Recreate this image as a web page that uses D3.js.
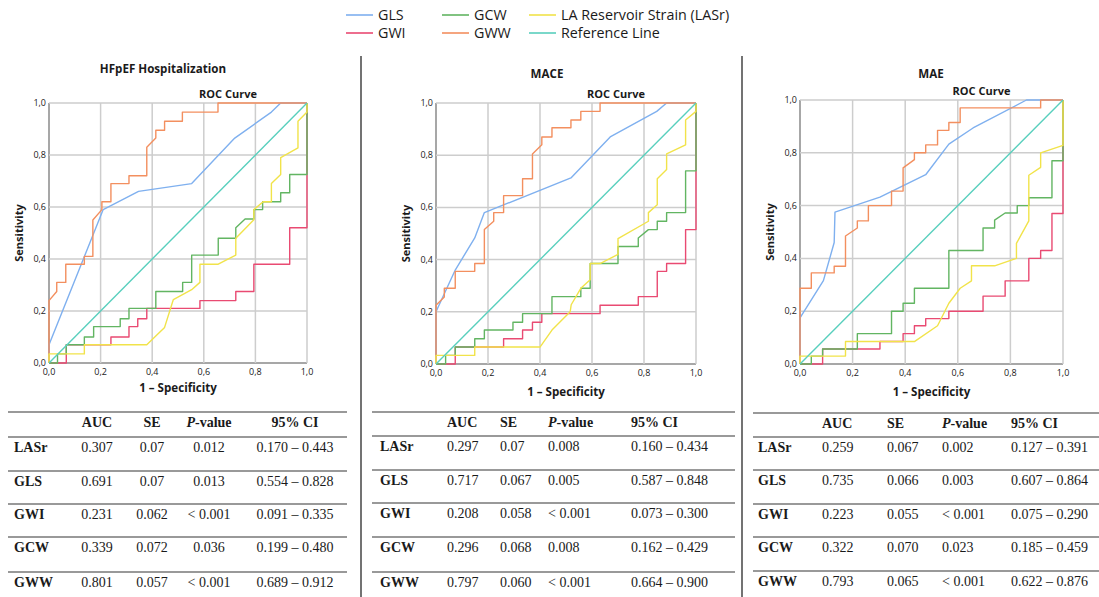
<!DOCTYPE html>
<html>
<head>
<meta charset="utf-8">
<title>ROC curves</title>
<script src="https://d3js.org/d3.v7.min.js"></script>
<style>
  body { margin: 0; background: #fff; overflow: hidden; }
  svg { display: block; }
  .sans { font-family: "Open Sans", "DejaVu Sans", sans-serif; fill: #1a1a1a; }
  .serif { font-family: "Liberation Serif", "Times New Roman", serif; fill: #1a1a1a; }
</style>
</head>
<body>
<svg id="chart" width="1099" height="597"></svg>
<script>
// ---- data ----
const seriesNames = ["GLS", "GWI", "GCW", "GWW", "LA Reservoir Strain (LASr)", "Reference Line"];
const seriesColors = ["#7fb0ef", "#e94a72", "#62b562", "#f38f5f", "#f1e34a", "#58cfbd"];
const ticks = [0, 0.2, 0.4, 0.6, 0.8, 1.0];
const refLine = [[0, 0], [1, 1]];

// HFpEF Hospitalization
const hfGLS = [[0,0],[0,0.07],[0.21,0.59],[0.347,0.66],[0.553,0.69],[0.72,0.865],[0.862,0.965],[0.898,1],[1,1]];
const hfGWI = [[0,0],[0.067,0],[0.067,0.07],[0.24,0.07],[0.24,0.10],[0.31,0.10],[0.31,0.14],[0.344,0.14],[0.344,0.17],[0.379,0.17],[0.379,0.21],[0.585,0.21],[0.585,0.24],[0.724,0.24],[0.724,0.275],[0.794,0.275],[0.794,0.38],[0.933,0.38],[0.933,0.52],[1,0.52],[1,1]];
const hfGCW = [[0,0],[0.033,0],[0.033,0.035],[0.067,0.035],[0.067,0.07],[0.137,0.07],[0.137,0.10],[0.173,0.10],[0.173,0.14],[0.276,0.14],[0.276,0.17],[0.31,0.17],[0.31,0.21],[0.414,0.21],[0.414,0.275],[0.518,0.275],[0.518,0.31],[0.553,0.31],[0.553,0.415],[0.656,0.415],[0.656,0.48],[0.724,0.48],[0.724,0.52],[0.76,0.554],[0.794,0.554],[0.794,0.59],[0.828,0.59],[0.828,0.62],[0.898,0.62],[0.898,0.655],[0.933,0.655],[0.933,0.725],[1,0.725],[1,1]];
const hfGWW = [[0,0],[0,0.24],[0.03,0.275],[0.03,0.31],[0.065,0.31],[0.065,0.38],[0.137,0.38],[0.137,0.41],[0.17,0.41],[0.17,0.55],[0.205,0.59],[0.205,0.62],[0.24,0.62],[0.24,0.69],[0.31,0.69],[0.31,0.72],[0.379,0.72],[0.379,0.83],[0.414,0.865],[0.414,0.895],[0.448,0.895],[0.448,0.93],[0.517,0.93],[0.517,0.965],[0.655,0.965],[0.655,1],[1,1]];
const hfLASr = [[0,0],[0,0.035],[0.137,0.035],[0.137,0.07],[0.379,0.07],[0.448,0.137],[0.482,0.244],[0.553,0.282],[0.585,0.31],[0.585,0.38],[0.656,0.38],[0.724,0.415],[0.724,0.48],[0.794,0.551],[0.794,0.59],[0.83,0.62],[0.862,0.62],[0.862,0.69],[0.898,0.725],[0.898,0.79],[0.965,0.827],[0.965,0.93],[1,0.965],[1,1]];

// MACE
const maGLS = [[0,0],[0,0.2],[0.074,0.36],[0.149,0.483],[0.186,0.58],[0.519,0.713],[0.67,0.87],[0.849,0.968],[0.887,1],[1,1]];
const maGWI = [[0,0],[0.074,0],[0.074,0.065],[0.26,0.065],[0.26,0.097],[0.333,0.097],[0.333,0.13],[0.371,0.13],[0.371,0.16],[0.407,0.16],[0.407,0.193],[0.631,0.193],[0.631,0.225],[0.778,0.225],[0.778,0.258],[0.851,0.258],[0.851,0.355],[0.887,0.355],[0.887,0.385],[0.96,0.385],[0.96,0.515],[1,0.515],[1,1]];
const maGCW = [[0,0],[0.037,0],[0.037,0.033],[0.074,0.033],[0.074,0.065],[0.149,0.065],[0.149,0.097],[0.186,0.097],[0.186,0.13],[0.296,0.13],[0.296,0.16],[0.333,0.16],[0.333,0.193],[0.446,0.193],[0.446,0.258],[0.557,0.258],[0.557,0.29],[0.593,0.29],[0.593,0.385],[0.70,0.385],[0.70,0.45],[0.778,0.45],[0.778,0.483],[0.817,0.515],[0.851,0.515],[0.851,0.547],[0.887,0.547],[0.887,0.58],[0.96,0.58],[0.96,0.74],[1,0.74],[1,1]];
const maGWW = [[0,0],[0,0.225],[0.032,0.257],[0.032,0.29],[0.074,0.29],[0.074,0.355],[0.149,0.355],[0.149,0.385],[0.186,0.385],[0.186,0.515],[0.222,0.547],[0.222,0.58],[0.26,0.58],[0.26,0.645],[0.333,0.645],[0.333,0.71],[0.371,0.71],[0.371,0.805],[0.407,0.84],[0.407,0.87],[0.446,0.87],[0.446,0.905],[0.519,0.905],[0.519,0.935],[0.557,0.935],[0.557,0.968],[0.631,0.968],[0.631,1],[1,1]];
const maLASr = [[0,0],[0,0.033],[0.149,0.033],[0.149,0.065],[0.40,0.065],[0.446,0.13],[0.516,0.2],[0.52,0.227],[0.557,0.29],[0.593,0.323],[0.593,0.385],[0.631,0.385],[0.70,0.42],[0.70,0.48],[0.817,0.547],[0.817,0.58],[0.851,0.61],[0.851,0.71],[0.887,0.745],[0.887,0.805],[0.96,0.84],[0.96,0.935],[1,0.968],[1,1]];

// MAE
const meGLS = [[0,0],[0,0.175],[0.089,0.316],[0.13,0.46],[0.133,0.575],[0.304,0.632],[0.478,0.717],[0.566,0.833],[0.658,0.894],[0.861,1],[1,1]];
const meGWI = [[0,0],[0.086,0],[0.086,0.057],[0.304,0.057],[0.304,0.085],[0.392,0.085],[0.392,0.115],[0.435,0.115],[0.435,0.145],[0.478,0.145],[0.478,0.172],[0.566,0.172],[0.566,0.20],[0.696,0.20],[0.696,0.257],[0.78,0.257],[0.78,0.315],[0.87,0.315],[0.87,0.40],[0.915,0.40],[0.915,0.43],[0.958,0.43],[0.958,0.57],[1,0.57],[1,1]];
const meGCW = [[0,0],[0.043,0],[0.043,0.03],[0.086,0.03],[0.086,0.057],[0.218,0.057],[0.218,0.115],[0.348,0.115],[0.348,0.20],[0.392,0.20],[0.392,0.23],[0.435,0.23],[0.435,0.287],[0.566,0.287],[0.566,0.43],[0.696,0.43],[0.696,0.515],[0.74,0.515],[0.74,0.545],[0.78,0.572],[0.826,0.572],[0.826,0.60],[0.87,0.60],[0.87,0.63],[0.958,0.63],[0.958,0.77],[1,0.77],[1,1]];
const meGWW = [[0,0],[0,0.287],[0.043,0.287],[0.043,0.345],[0.13,0.345],[0.13,0.37],[0.173,0.37],[0.173,0.485],[0.218,0.515],[0.218,0.542],[0.26,0.542],[0.26,0.6],[0.348,0.6],[0.348,0.655],[0.392,0.655],[0.392,0.743],[0.435,0.774],[0.435,0.8],[0.478,0.8],[0.478,0.83],[0.523,0.83],[0.523,0.885],[0.566,0.885],[0.566,0.915],[0.609,0.915],[0.609,0.97],[0.915,0.97],[0.915,1],[1,1]];
const meLASr = [[0,0],[0,0.03],[0.173,0.03],[0.173,0.085],[0.435,0.085],[0.523,0.145],[0.566,0.23],[0.609,0.287],[0.652,0.315],[0.652,0.372],[0.74,0.372],[0.823,0.40],[0.823,0.457],[0.87,0.542],[0.87,0.715],[0.915,0.745],[0.915,0.80],[1,0.828],[1,1]];

// tables
const tableHeader = ["", "AUC", "SE", "P-value", "95% CI"];
const rowLabels = ["LASr", "GLS", "GWI", "GCW", "GWW"];
const hfAUC = ["0.307", "0.691", "0.231", "0.339", "0.801"];
const hfSE  = ["0.07", "0.07", "0.062", "0.072", "0.057"];
const hfP   = ["0.012", "0.013", "< 0.001", "0.036", "< 0.001"];
const hfCI  = ["0.170 – 0.443", "0.554 – 0.828", "0.091 – 0.335", "0.199 – 0.480", "0.689 – 0.912"];
const maAUC = ["0.297", "0.717", "0.208", "0.296", "0.797"];
const maSE  = ["0.07", "0.067", "0.058", "0.068", "0.060"];
const maP   = ["0.008", "0.005", "< 0.001", "0.008", "< 0.001"];
const maCI  = ["0.160 – 0.434", "0.587 – 0.848", "0.073 – 0.300", "0.162 – 0.429", "0.664 – 0.900"];
const meAUC = ["0.259", "0.735", "0.223", "0.322", "0.793"];
const meSE  = ["0.067", "0.066", "0.055", "0.070", "0.065"];
const meP   = ["0.002", "0.003", "< 0.001", "0.023", "< 0.001"];
const meCI  = ["0.127 – 0.391", "0.607 – 0.864", "0.075 – 0.290", "0.185 – 0.459", "0.622 – 0.876"];

// ---- layout ----
const panels = [
  { title: "HFpEF Hospitalization", tx: 163, ty: 73, box: [49, 307, 103, 363], xl: 392,
    series: [hfGLS, hfGWI, hfGCW, hfGWW, hfLASr, refLine],
    table: { cols: [hfAUC, hfSE, hfP, hfCI], x: [14, 97, 152, 209, 295], align: "middle",
             x0: 8, x1: 347, lines: [412, 437, 471, 504, 537, 572] } },
  { title: "MACE", tx: 547, ty: 78, box: [436, 696, 103, 364], xl: 396,
    series: [maGLS, maGWI, maGCW, maGWW, maLASr, refLine],
    table: { cols: [maAUC, maSE, maP, maCI], x: [380, 447, 500, 548, 631], align: "start",
             x0: 372, x1: 735, lines: [412, 436, 470, 503, 537, 572] } },
  { title: "MAE", tx: 931, ty: 78, box: [800, 1063, 100, 364], xl: 396,
    series: [meGLS, meGWI, meGCW, meGWW, meLASr, refLine],
    table: { cols: [meAUC, meSE, meP, meCI], x: [758, 822, 887, 942, 1011], align: "start",
             x0: 753, x1: 1099, lines: [413, 437, 470, 504, 537, 571] } }
];

const svg = d3.select("#chart");
const fmt = v => d3.format(".1f")(v).replace(".", ",");

// legend
const legend = svg.append("g").attr("class", "sans").style("font-size", "14.3px");
const legCols = [346, 442, 529];
seriesNames.forEach((name, i) => {
  const cx = legCols[Math.floor(i / 2)], cy = i % 2 ? 33 : 15;
  legend.append("line").attr("x1", cx).attr("x2", cx + 27).attr("y1", cy).attr("y2", cy)
    .attr("stroke", seriesColors[i]).attr("stroke-width", 1.6);
  legend.append("text").attr("x", cx + 32).attr("y", cy + 5).text(name);
});

// separators
[361, 742].forEach(x => {
  svg.append("line").attr("x1", x).attr("x2", x).attr("y1", 56).attr("y2", 597)
    .attr("stroke", "#444").attr("stroke-width", 1.5);
});

panels.forEach(p => {
  const [l, r, t, b] = p.box;
  const x = d3.scaleLinear().domain([0, 1]).range([l, r]);
  const y = d3.scaleLinear().domain([0, 1]).range([b, t]);
  const g = svg.append("g");

  // grid
  ticks.forEach(v => {
    g.append("line").attr("x1", x(v)).attr("x2", x(v)).attr("y1", t).attr("y2", b)
      .attr("stroke", v === 0 ? "#8a8a8a" : "#cdcdcd").attr("stroke-width", 1.5);
    g.append("line").attr("y1", y(v)).attr("y2", y(v)).attr("x1", l).attr("x2", r)
      .attr("stroke", v === 0 ? "#8a8a8a" : "#cdcdcd").attr("stroke-width", 1.5);
  });

  // tick labels
  const tl = g.append("g").attr("class", "sans").style("font-size", "9px");
  ticks.forEach(v => {
    tl.append("text").attr("x", l - 3).attr("y", y(v) + 3).attr("text-anchor", "end").text(fmt(v));
    tl.append("text").attr("x", x(v)).attr("y", b + 12).attr("text-anchor", "middle").text(fmt(v));
  });

  // curves
  const line = d3.line().x(d => x(d[0])).y(d => y(d[1]));
  p.series.forEach((s, i) => {
    g.append("path").datum(s).attr("d", line).attr("fill", "none")
      .attr("stroke", seriesColors[i]).attr("stroke-width", 1.4).attr("stroke-linejoin", "round");
  });

  // titles
  const tg = g.append("g").attr("class", "sans").style("font-weight", "bold");
  tg.append("text").attr("x", p.tx).attr("y", p.ty).attr("text-anchor", "middle")
    .style("font-size", "11.6px").text(p.title);
  tg.append("text").attr("x", (l + r) / 2 + 50).attr("y", t - 5).attr("text-anchor", "middle")
    .style("font-size", "11px").text("ROC Curve");
  tg.append("text").attr("x", (l + r) / 2).attr("y", p.xl).attr("text-anchor", "middle")
    .style("font-size", "11.6px").text("1 – Specificity");
  tg.append("text").attr("transform", `translate(${l - 26},${(t + b) / 2}) rotate(-90)`)
    .attr("text-anchor", "middle").style("font-size", "11px").text("Sensitivity");

  // table
  const tb = p.table;
  const tt = svg.append("g").attr("class", "serif").style("font-size", "14px");
  tb.lines.forEach(ly => {
    tt.append("line").attr("x1", tb.x0).attr("x2", tb.x1).attr("y1", ly).attr("y2", ly)
      .attr("stroke", "#777").attr("stroke-width", 1.6);
  });
  tableHeader.forEach((h, j) => {
    if (!h) return;
    const txt = tt.append("text").attr("x", tb.x[j]).attr("y", tb.lines[0] + 15)
      .attr("text-anchor", tb.align).style("font-weight", "bold");
    if (h === "P-value") {
      txt.append("tspan").style("font-style", "italic").text("P");
      txt.append("tspan").text("-value");
    } else txt.text(h);
  });
  rowLabels.forEach((lab, i) => {
    const ry = tb.lines[i + 1] + 15;
    tt.append("text").attr("x", tb.x[0]).attr("y", ry).style("font-weight", "bold").text(lab);
    tb.cols.forEach((col, j) => {
      tt.append("text").attr("x", tb.x[j + 1]).attr("y", ry)
        .attr("text-anchor", tb.align).text(col[i]);
    });
  });
});
</script>
</body>
</html>
